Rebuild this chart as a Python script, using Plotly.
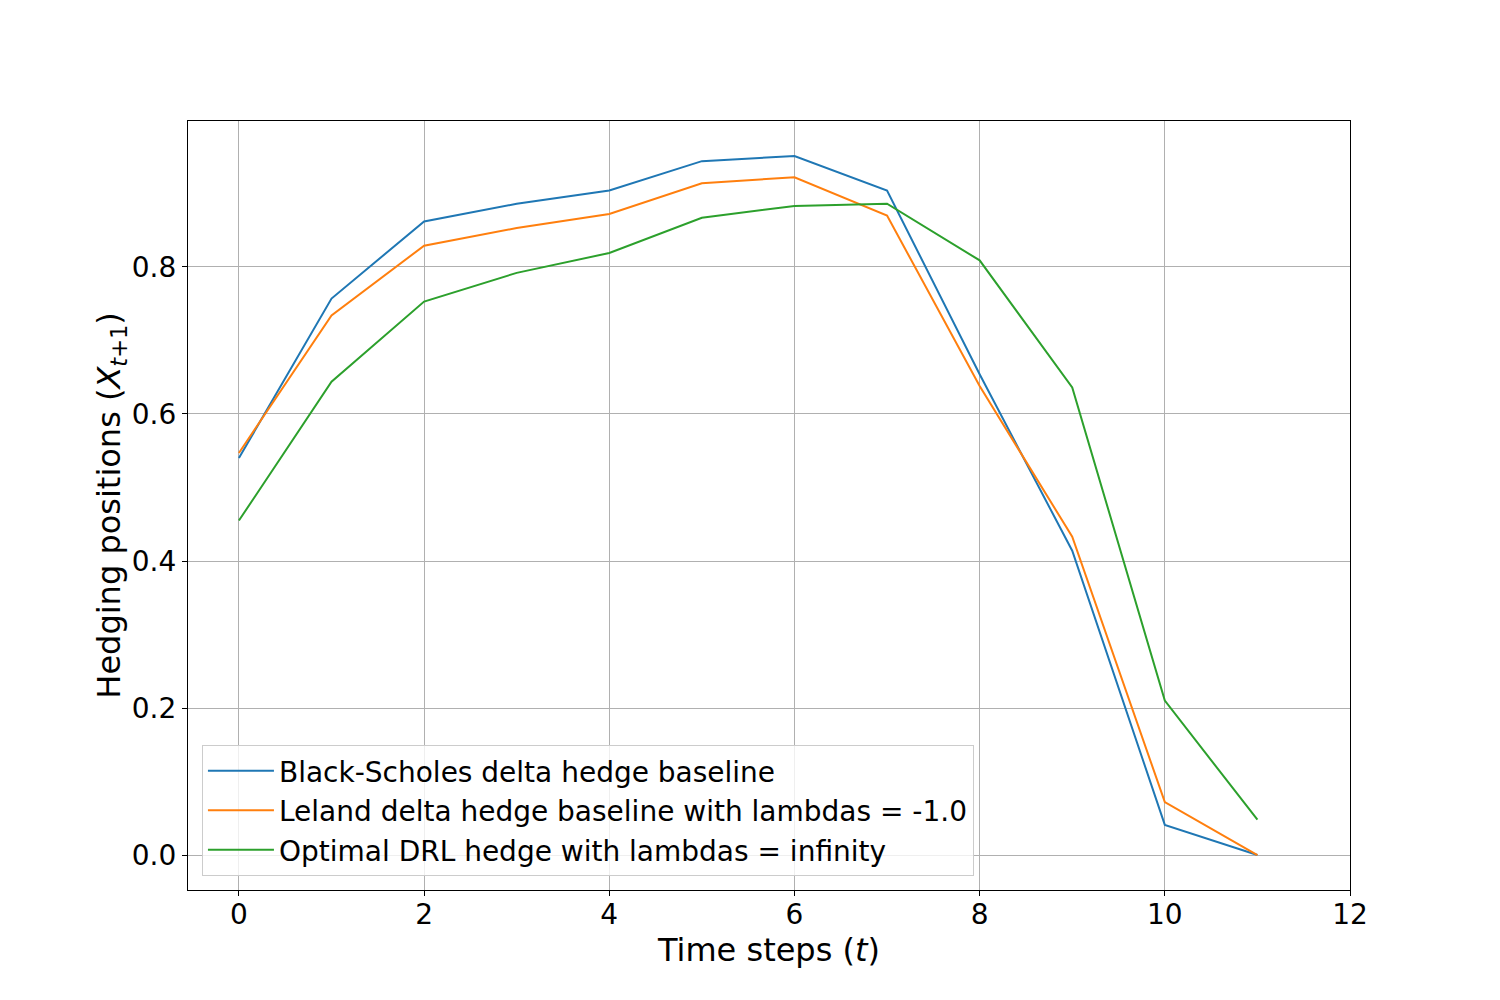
import plotly.graph_objects as go

# time steps and hedging positions
steps = list(range(12))
bs_delta = [0.540, 0.757, 0.862, 0.886, 0.904, 0.944, 0.951, 0.904, 0.654, 0.414, 0.041, 0.0]
leland_delta = [0.547, 0.734, 0.829, 0.853, 0.872, 0.914, 0.922, 0.870, 0.638, 0.433, 0.072, 0.0]
drl_hedge = [0.455, 0.644, 0.753, 0.792, 0.819, 0.867, 0.883, 0.886, 0.809, 0.636, 0.210, 0.048]

names = [
    "Black-Scholes delta hedge baseline",
    "Leland delta hedge baseline with lambdas = -1.0",
    "Optimal DRL hedge with lambdas = infinity",
]
colors = ["#1f77b4", "#ff7f0e", "#2ca02c"]

fig = go.Figure()
for vals, name, col in zip([bs_delta, leland_delta, drl_hedge], names, colors):
    fig.add_trace(go.Scatter(x=steps, y=vals, mode="lines", name=name,
                             line=dict(color=col, width=2)))

axis_common = dict(
    showline=True, linecolor="black", linewidth=1.2, mirror=True,
    ticks="outside", ticklen=5, tickwidth=1.2, tickcolor="black",
    showgrid=True, gridcolor="#b0b0b0", gridwidth=1,
    zeroline=False, tickfont=dict(size=28, color="black"),
)

fig.update_xaxes(range=[-0.55, 12], tickvals=[0, 2, 4, 6, 8, 10, 12], ticklabelstandoff=-6,
                 title=dict(text="Time steps (<i>t</i>)", font=dict(size=32, color="black"), standoff=0),
                 **axis_common)
fig.update_yaxes(range=[-0.0476, 0.9986], tickvals=[0.0, 0.2, 0.4, 0.6, 0.8], tickformat=".1f",
                 title=dict(text="Hedging positions (<i>X</i><sub><i>t</i>+1</sub>)",
                            font=dict(size=32, color="black"), standoff=1),
                 **axis_common)

fig.update_layout(
    width=1500, height=1000,
    margin=dict(l=180, r=158, t=113, b=118),
    paper_bgcolor="white", plot_bgcolor="white",
    font=dict(family="DejaVu Sans", color="black"),
    legend=dict(x=0.012, y=0.018, xanchor="left", yanchor="bottom",
                bgcolor="rgba(255,255,255,0.8)", bordercolor="#cccccc", borderwidth=1,
                font=dict(size=28, color="black"), tracegroupgap=0, itemwidth=66),
    showlegend=True,
)

fig.write_html("out.html")
